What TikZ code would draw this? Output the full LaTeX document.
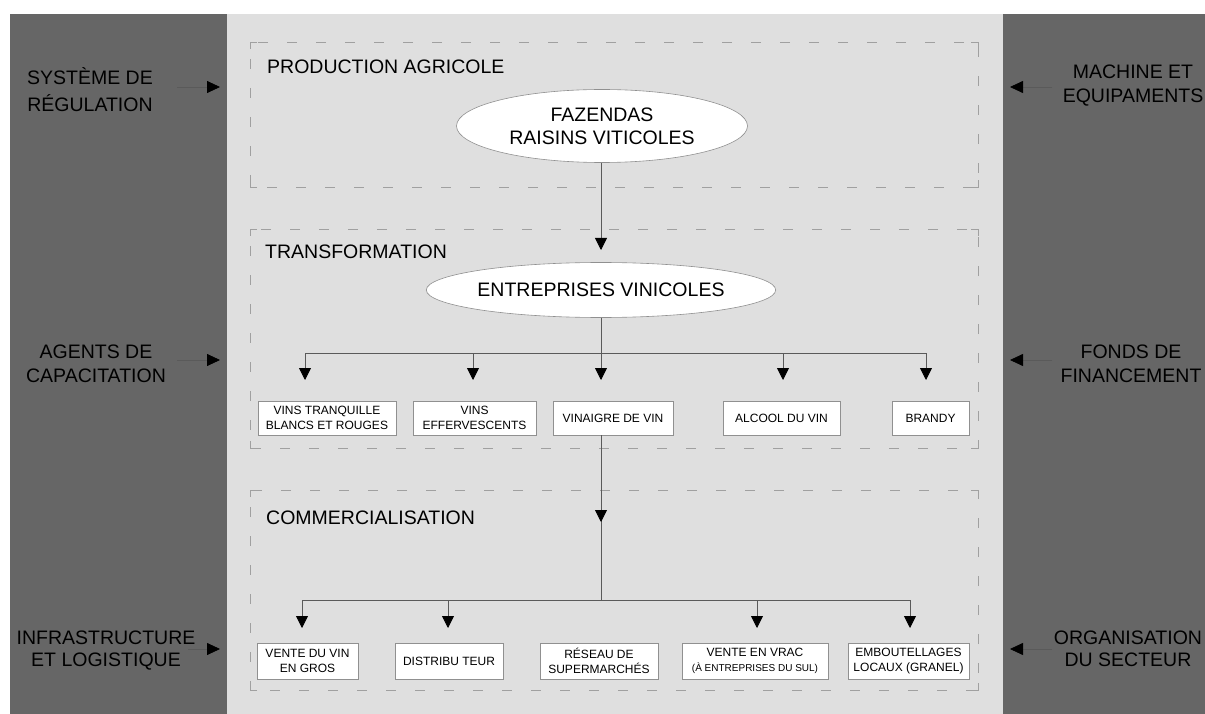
\documentclass[tikz,border=0pt]{standalone}
\usepackage{fontspec}
\setmainfont{Liberation Sans}
\usetikzlibrary{arrows.meta,shapes.geometric}
\definecolor{darkp}{HTML}{666666}
\definecolor{lightp}{HTML}{DFDFDF}
\definecolor{linec}{HTML}{5A5A5A}
\definecolor{dashc}{HTML}{A0A0A0}
\definecolor{boxc}{HTML}{909090}
\newcommand\dashframe[4]{%
  \draw[dashbox] (#1,#2) rectangle (#3,#4);
  \draw[cornermark] (#1+7,#2) -- (#1,#2) -- (#1,#2+7);
  \draw[cornermark] (#3-7,#2) -- (#3,#2) -- (#3,#2+7);
  \draw[cornermark] (#1+7,#4) -- (#1,#4) -- (#1,#4-7);
  \draw[cornermark] (#3-7,#4) -- (#3,#4) -- (#3,#4-7);
}
\begin{document}
\begin{tikzpicture}[x=1pt,y=-1pt,
  conn/.style={draw=linec, line width=0.8pt},
  arr/.style={conn, -{Triangle[length=12pt,width=12pt,color=black]}},
  sidearr/.style={conn, -{Triangle[length=13pt,width=12pt,color=black]}},
  sidelabel/.style={align=center, text=black, inner sep=0pt},
  section/.style={font=\fontsize{19.5}{23}\selectfont, anchor=west, inner sep=0pt},
  oval/.style={ellipse, draw=boxc, fill=white, line width=0.6pt, inner sep=0pt,
    font=\fontsize{19.5}{23}\selectfont, align=center},
  item/.style={rectangle, draw=boxc, fill=white, line width=0.7pt, inner sep=0pt,
    font=\fontsize{12}{14.5}\selectfont, align=center},
  dashbox/.style={draw=dashc, line width=0.8pt, dash pattern=on 10pt off 19pt, dash phase=12pt},
  cornermark/.style={draw=dashc, line width=0.8pt},
]
\useasboundingbox (0,0) rectangle (1205,714);
\fill[white] (0,0) rectangle (1205,714);
\fill[darkp] (10,14) rectangle (1205,714);
\fill[lightp] (227,14) rectangle (1003,714);

% section frames
\dashframe{250}{42}{978}{187}
\dashframe{250}{229}{978}{448}
\dashframe{250}{490}{978}{690}

\node[section] (lprod) at (267,67) {PRODUCTION AGRICOLE};
\node[section] (ltrans) at (265,252) {TRANSFORMATION};
\node[section] (lcomm) at (266,518) {COMMERCIALISATION};

% ellipses
\node[oval, minimum width=291pt, minimum height=73pt] (faz) at (602,126) {FAZENDAS\\RAISINS VITICOLES};
\node[oval, minimum width=290pt, minimum height=55pt] (ent) at (601,290) {ENTREPRISES VINICOLES};

\coordinate (trunk) at (601,0);
\coordinate (enttip) at (601,250);
\draw[arr] (faz.south -| trunk) -- (enttip);

% transformation products
\node[item, minimum width=138pt, minimum height=34pt] (b1) at (327,418) {VINS TRANQUILLE\\BLANCS ET ROUGES};
\node[item, minimum width=123pt, minimum height=34pt] (b2) at (474.5,418) {VINS\\EFFERVESCENTS};
\node[item, minimum width=120pt, minimum height=34pt] (b3) at (613,418) {VINAIGRE DE VIN};
\node[item, minimum width=117pt, minimum height=34pt] (b4) at (781.5,418) {ALCOOL DU VIN};
\node[item, minimum width=77pt, minimum height=34pt] (b5) at (930.5,418) {BRANDY};

\coordinate (barAL) at (305,353);
\coordinate (barAR) at (926,353);
\draw[conn] (ent.south -| trunk) -- (trunk |- barAL);
\draw[conn] (barAL) -- (barAR);
\coordinate (ta1) at (305,380);
\coordinate (ta2) at (473,380);
\coordinate (ta3) at (601,380);
\coordinate (ta4) at (783,380);
\coordinate (ta5) at (926,380);
\foreach \t in {ta1,ta2,ta3,ta4,ta5}{\draw[arr] (\t |- barAL) -- (\t);}

% commercialisation
\node[item, minimum width=101pt, minimum height=36pt] (c1) at (307.5,661) {VENTE DU VIN\\EN GROS};
\node[item, minimum width=108pt, minimum height=36pt] (c2) at (449,661) {DISTRIBU TEUR};
\node[item, minimum width=118pt, minimum height=36pt] (c3) at (599,661) {RÉSEAU DE\\SUPERMARCHÉS};
\node[item, minimum width=146pt, minimum height=36pt] (c4) at (755,661) {VENTE EN VRAC\\{\fontsize{10}{12}\selectfont (À ENTREPRISES DU SUL)}};
\node[item, minimum width=121pt, minimum height=36pt] (c5) at (908.5,661) {EMBOUTELLAGES\\LOCAUX (GRANEL)};

\coordinate (barBL) at (302,600);
\coordinate (barBR) at (910,600);
\coordinate (commtip) at (601,522);
\draw[conn] (b3.south -| trunk) -- (trunk |- barBL);
\draw[arr] (b3.south -| trunk) -- (commtip);
\draw[conn] (barBL) -- (barBR);
\coordinate (tb1) at (302,628);
\coordinate (tb2) at (448,628);
\coordinate (tb4) at (757,628);
\coordinate (tb5) at (910,628);
\foreach \t in {tb1,tb2,tb4,tb5}{\draw[arr] (\t |- barBL) -- (\t);}

% side labels
\node[sidelabel, font=\fontsize{19.5}{27}\selectfont] (sys) at (90,90) {SYSTÈME DE\\RÉGULATION};
\node[sidelabel, font=\fontsize{19.5}{24}\selectfont] (mach) at (1133,86) {MACHINE ET\\EQUIPAMENTS};
\node[sidelabel, font=\fontsize{19.5}{24}\selectfont] (agt) at (96,364) {AGENTS DE\\CAPACITATION};
\node[sidelabel, font=\fontsize{19.5}{24}\selectfont] (fds) at (1131,364) {FONDS DE\\FINANCEMENT};
\node[sidelabel, font=\fontsize{19.5}{22}\selectfont] (infra) at (106,651) {INFRASTRUCTURE\\ET LOGISTIQUE};
\node[sidelabel, font=\fontsize{19.5}{22}\selectfont] (org) at (1128,649) {ORGANISATION\\DU SECTEUR};

\coordinate (sa1) at (177,87);   \coordinate (se1) at (220,87);
\coordinate (sa2) at (177,360);  \coordinate (se2) at (220,360);
\coordinate (sa3) at (188,649);  \coordinate (se3) at (220,649);
\coordinate (ra1) at (1052,87);  \coordinate (re1) at (1010,87);
\coordinate (ra2) at (1052,360); \coordinate (re2) at (1010,360);
\coordinate (ra3) at (1052,649); \coordinate (re3) at (1010,649);
\draw[sidearr] (sa1) -- (se1);
\draw[sidearr] (sa2) -- (se2);
\draw[sidearr] (sa3) -- (se3);
\draw[sidearr] (ra1) -- (re1);
\draw[sidearr] (ra2) -- (re2);
\draw[sidearr] (ra3) -- (re3);
\end{tikzpicture}
\end{document}
